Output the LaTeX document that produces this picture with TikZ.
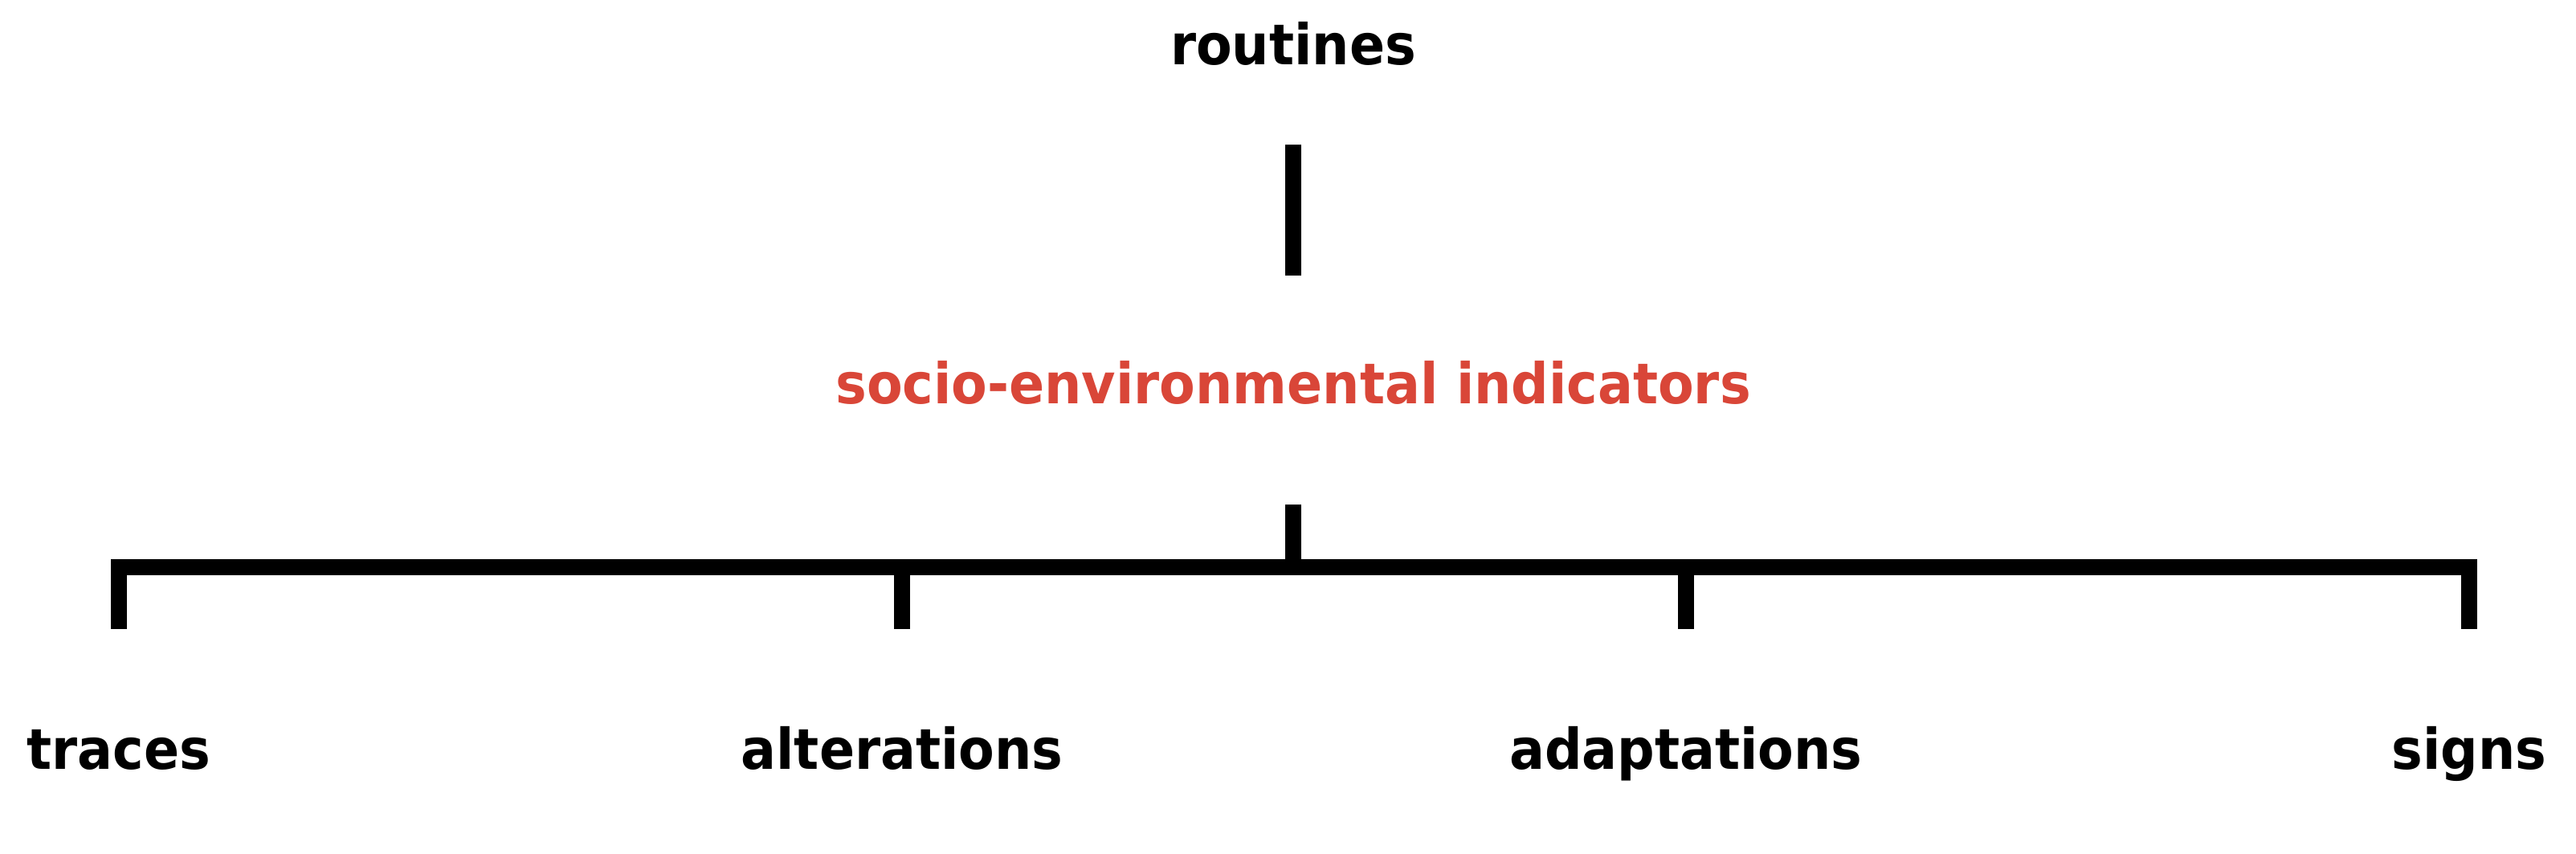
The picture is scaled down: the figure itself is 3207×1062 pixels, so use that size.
\documentclass[tikz,border=0pt]{standalone}
\usepackage{fontspec}
\setmainfont{DejaVu Sans}[FakeStretch=0.93]
\usepackage{xcolor}
\usepackage{tikz}
\usetikzlibrary{positioning}
\definecolor{indicred}{HTML}{D94638}

\begin{document}
\begin{tikzpicture}[
  x=0.01cm, y=-0.01cm,
  term/.style={inner sep=0pt, anchor=base, font=\fontsize{19.9}{24}\selectfont\bfseries},
  leaf/.style={term, text=black},
  link/.style={line width=5.6pt, line join=miter, line cap=butt, draw=black}
]
\useasboundingbox (0,0) rectangle (3207,1062);

\node[term] (routines) at (1610,80) {routines};
\node[term, text=indicred] (indicators) at (1610,502) {socio-environmental indicators};
\coordinate (hub) at (1610,706);

\foreach \name/\x in {traces/148, alterations/1123, adaptations/2099, signs/3074}
  \node[leaf] (\name) at (\x,957) {\name};

\draw[link] ([yshift=-1cm]routines.base) -- ([yshift=1.59cm]indicators.base);
\draw[link] ([yshift=-1.26cm]indicators.base) -- (hub);
\draw[link] ([yshift=1.74cm]traces.base) |- (hub) -| ([yshift=1.74cm]signs.base);
\draw[link] ([yshift=1.74cm]alterations.base) -- (alterations |- hub);
\draw[link] ([yshift=1.74cm]adaptations.base) -- (adaptations |- hub);
\end{tikzpicture}
\end{document}
